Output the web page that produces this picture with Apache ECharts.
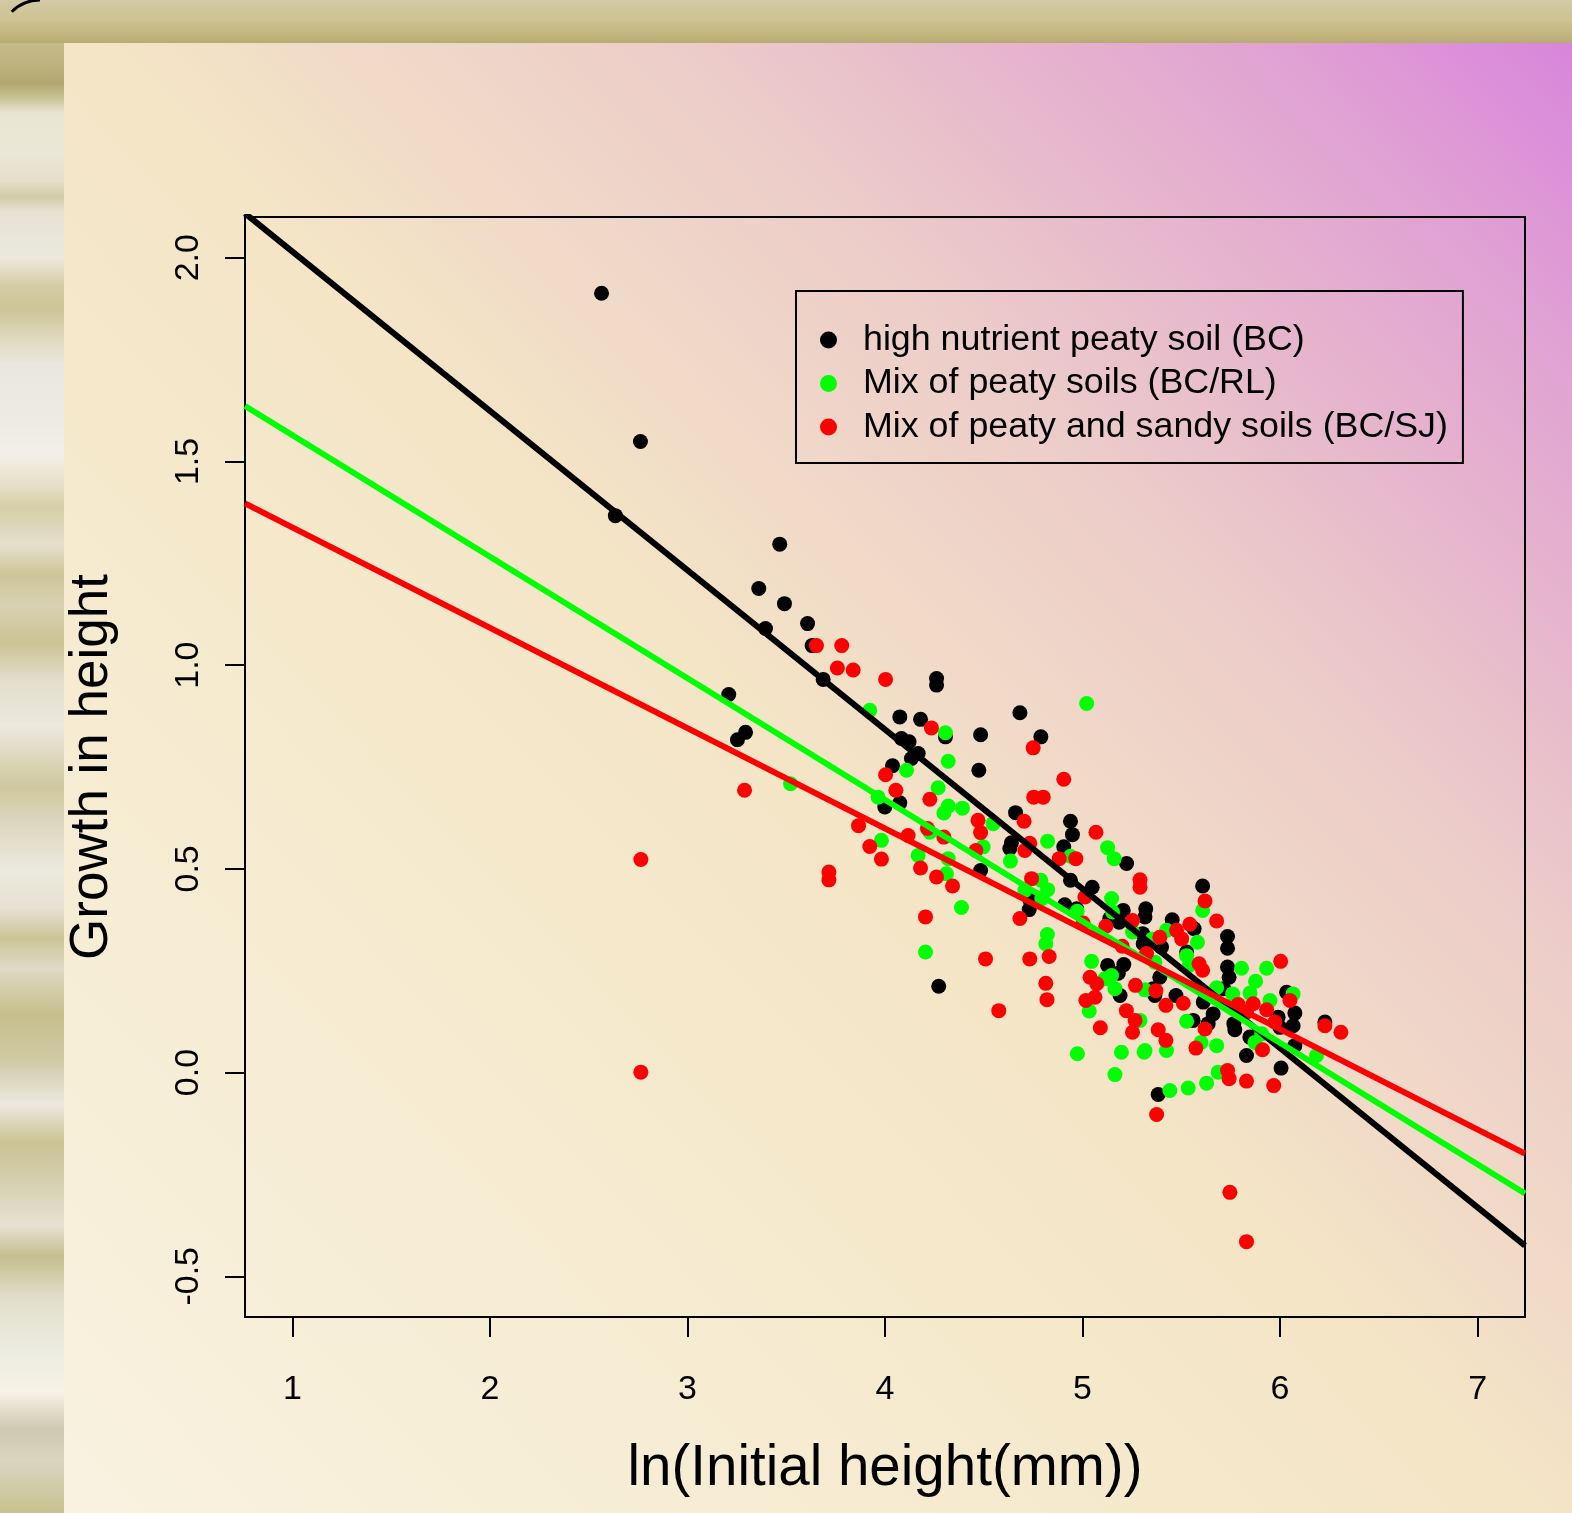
<!DOCTYPE html>
<html><head><meta charset="utf-8">
<script src="https://cdn.jsdelivr.net/npm/echarts@6/dist/echarts.min.js"></script>
<style>html,body{margin:0;padding:0;background:#f5e9cc}#c{width:1572px;height:1513px}</style>
</head><body><div id="c"></div>
<script>
const xTicks = [1, 2, 3, 4, 5, 6, 7];
const yTicks = [-0.5, 0, 0.5, 1, 1.5, 2];
const seriesNames = ['high nutrient peaty soil (BC)', 'Mix of peaty soils (BC/RL)', 'Mix of peaty and sandy soils (BC/SJ)'];
const xAxisTitle = 'ln(Initial height(mm))';
const yAxisTitle = 'Growth in height';

const bcPoints = [
[2.565,1.913],[2.762,1.549],[2.635,1.367],[3.467,1.297],[3.361,1.188],[3.491,1.151],[3.608,1.102],[3.395,1.090],[3.631,1.048],[3.687,0.965],[3.209,0.928],
[4.261,0.967],[4.261,0.951],[3.253,0.817],[3.294,0.835],[4.075,0.873],[4.180,0.867],[4.306,0.824],[4.083,0.820],[4.122,0.812],[4.168,0.783],[4.134,0.771],[4.038,0.753],[4.075,0.662],[3.999,0.652],
[4.683,0.883],[4.484,0.829],[4.789,0.824],[4.475,0.742],[4.661,0.638],[4.939,0.617],[4.949,0.584],[4.640,0.564],[4.632,0.550],[4.905,0.554],[4.484,0.496],[4.939,0.472],[5.049,0.455],
[5.223,0.513],[4.910,0.412],[4.730,0.400],[4.734,0.423],[4.970,0.402],[5.206,0.398],[5.320,0.402],[5.316,0.382],[5.185,0.369],[5.138,0.378],[5.304,0.341],[5.307,0.316],[5.127,0.263],[5.209,0.265],[5.181,0.244],[5.190,0.189],[5.358,0.206],
[4.272,0.212],
[5.608,0.458],[5.454,0.375],[5.565,0.353],[5.734,0.334],[5.734,0.305],[5.400,0.308],[5.527,0.296],[5.734,0.259],[5.742,0.234],[5.391,0.234],[6.033,0.197],[6.075,0.146],[6.066,0.115],[5.473,0.189],[5.611,0.173],[5.661,0.144],[5.636,0.120],[5.560,0.128],[5.766,0.120],[5.771,0.105],[5.714,0.206],[5.990,0.136],[5.999,0.111],[5.847,0.087],[6.075,0.066],[5.830,0.042],[6.227,0.124],[5.366,0.189],
[6.005,0.011],[5.383,-0.054]
];
const bcrlPoints = [
[3.923,0.889],[4.306,0.834],[4.320,0.764],[4.109,0.742],[4.269,0.699],[4.320,0.654],[4.298,0.637],[3.522,0.709],[3.965,0.676],[4.227,0.590],[3.982,0.570],[4.168,0.533],[4.320,0.525],[4.311,0.488],
[5.021,0.906],[4.392,0.649],[4.547,0.611],[4.823,0.568],[4.497,0.554],[4.635,0.519],[4.939,0.531],[4.789,0.472],[4.823,0.449],[4.708,0.447],
[5.127,0.552],[5.160,0.525],[4.794,0.427],[5.147,0.427],[5.152,0.394],[4.973,0.396],[5.253,0.345],[5.354,0.328],[4.822,0.339],[4.814,0.316],[5.046,0.273],[5.147,0.238],[5.164,0.206],[5.113,0.230],[5.034,0.151],[5.291,0.128],[5.316,0.203],[4.974,0.046],[5.197,0.050],[5.312,0.050],[4.387,0.405],
[4.205,0.296],
[5.608,0.398],[5.425,0.349],[5.582,0.320],[5.527,0.287],[5.540,0.263],[5.366,0.271],[5.805,0.256],[5.932,0.256],[5.876,0.224],[5.679,0.208],[5.760,0.193],[5.848,0.195],[5.949,0.177],[6.066,0.193],[5.527,0.126],[5.907,0.095],[5.873,0.074],[5.679,0.066],[5.600,0.074],[5.316,0.054],[5.425,0.054],[6.185,0.042],
[5.164,-0.005],[5.442,-0.044],[5.535,-0.038],[5.628,-0.026],[5.687,0.001]
];
const bcsjPoints = [
[3.653,1.048],[3.781,1.048],[3.759,0.993],[3.839,0.988],
[4.003,0.965],[4.235,0.846],[4.003,0.731],[4.055,0.693],[4.227,0.671],[3.289,0.693],[3.866,0.606],[4.117,0.582],[4.215,0.599],[4.298,0.578],[3.923,0.555],[3.982,0.524],[3.716,0.492],[3.716,0.473],[4.180,0.502],[4.261,0.480],[4.342,0.458],
[2.764,0.523],[2.764,0.001],
[4.750,0.797],[4.905,0.720],[4.753,0.676],[4.801,0.676],[4.704,0.617],[4.471,0.619],[4.484,0.589],[4.733,0.563],[4.708,0.545],[4.460,0.545],[4.882,0.525],[4.966,0.525],[4.742,0.476],[5.068,0.590],[5.012,0.431],
[5.291,0.473],[5.291,0.455],[4.683,0.378],[5.003,0.367],[5.118,0.359],[5.253,0.373],[5.201,0.310],[5.324,0.292],[4.509,0.279],[4.733,0.279],[4.831,0.285],[5.038,0.234],[5.072,0.218],[4.814,0.219],[4.820,0.179],[5.017,0.177],[5.063,0.185],[5.268,0.214],[5.371,0.201],[5.222,0.152],[5.266,0.128],[5.253,0.099],[5.090,0.110],[4.576,0.152],
[4.205,0.382],
[5.620,0.421],[5.679,0.372],[5.476,0.349],[5.543,0.364],[5.502,0.328],[5.391,0.332],[5.590,0.267],[5.608,0.251],[6.003,0.273],[5.510,0.170],[5.422,0.165],[5.788,0.167],[5.864,0.169],[5.830,0.148],[5.932,0.154],[6.050,0.177],[5.974,0.124],[6.227,0.115],[6.308,0.099],[5.620,0.107],[5.383,0.105],[5.422,0.079],[5.574,0.060],[5.911,0.056],
[5.734,0.005],[5.742,-0.015],[5.830,-0.021],[5.968,-0.032],[5.375,-0.103],[5.746,-0.294],[5.830,-0.415]
];
// fitted regression lines: y values at the left and right plot edges
const fitX = [0.76, 7.24];
const bcFitY = [2.109, -0.425];
const bcrlFitY = [1.636, -0.297];
const bcsjFitY = [1.397, -0.199];

const colors = ['#000000', '#00ff00', '#ff0000'];
const FONT = '"Liberation Sans", Arial, Helvetica, sans-serif';

const chart = echarts.init(document.getElementById('c'), null, {renderer: 'canvas'});
const G = echarts.graphic;

const stripStops = [
[0.00,'#cdc398'],[0.02,'#c8bf8e'],[0.045,'#bdb27e'],[0.055,'#b2a670'],[0.065,'#c9c394'],[0.075,'#e8e6d2'],[0.10,'#ebe8d8'],[0.12,'#e3dfca'],[0.13,'#d2cba6'],[0.14,'#e6e3d4'],[0.17,'#ebe9de'],[0.19,'#d3cba2'],[0.205,'#cdc596'],[0.22,'#dcd6b8'],[0.24,'#e9e7df'],[0.28,'#edebe3'],[0.30,'#f2f0e8'],[0.32,'#e6e0c8'],[0.335,'#d6cea6'],[0.36,'#e4e0cc'],[0.38,'#cdc597'],[0.40,'#d8d2b2'],[0.425,'#cbc393'],[0.45,'#e2dfcc'],[0.48,'#ebe9e0'],[0.52,'#cfc89c'],[0.545,'#dcd8c0'],[0.575,'#ece9df'],[0.60,'#e5e2d2'],[0.62,'#ccc497'],[0.64,'#dedac4'],[0.67,'#c7bf8c'],[0.70,'#cfc9a4'],[0.73,'#ebe9df'],[0.755,'#cbc394'],[0.78,'#d4cfae'],[0.81,'#e5e2d2'],[0.83,'#c6be90'],[0.86,'#e2e0cc'],[0.89,'#ebebe0'],[0.92,'#f6f2e6'],[0.945,'#cdc8b0'],[0.965,'#d9d6c0'],[1.0,'#c8c290']
].map(s => ({offset: s[0], color: s[1]}));

function lineSeries(y, color) {
  return {
    type: 'line', data: [[fitX[0], y[0]], [fitX[1], y[1]]],
    showSymbol: false, symbol: 'none', silent: true, z: 5,
    lineStyle: {color: color, width: 6}, clip: true, animation: false
  };
}
function scatterSeries(name, pts, color) {
  return {
    type: 'scatter', name: name, data: pts, symbol: 'circle', symbolSize: 15,
    itemStyle: {color: color, opacity: 1}, z: 3, animation: false
  };
}

const option = {
  animation: false,
  backgroundColor: '#f5e9cc',
  graphic: [
    {type: 'rect', silent: true, z: -100, shape: {x: 0, y: 0, width: 64, height: 1513},
     style: {fill: new G.LinearGradient(0, 0, 0, 1, stripStops)}},
    {type: 'rect', silent: true, z: -99, shape: {x: 0, y: 0, width: 1572, height: 43},
     style: {fill: new G.LinearGradient(0, 0, 0, 1, [
       {offset: 0, color: '#d3c9a4'}, {offset: 0.45, color: '#cdc494'}, {offset: 0.8, color: '#c2b67f'}, {offset: 1, color: '#b8ab72'}])}},
    {type: 'rect', silent: true, z: -98, shape: {x: 64, y: 43, width: 1508, height: 1470},
     style: {fill: new G.LinearGradient(0, 1, 1, 0, [
       {offset: 0, color: '#f9f2e0'}, {offset: 0.3, color: '#f6ebd0'}, {offset: 0.5, color: '#f4e5c6'},
       {offset: 0.6, color: '#f0d8c8'}, {offset: 0.7, color: '#ecccc9'}, {offset: 0.8, color: '#e6b6cd'},
       {offset: 0.9, color: '#e0a1d3'}, {offset: 1, color: '#d885db'}])}},
    {type: 'arc', silent: true, z: -97, shape: {cx: 40, cy: 40, r: 40, startAngle: Math.PI * 1.25, endAngle: Math.PI * 1.5},
     style: {stroke: '#000', lineWidth: 3, fill: null}}
  ],
  grid: {left: 245, top: 217, width: 1280, height: 1100, show: true, borderColor: '#000', borderWidth: 2,
         backgroundColor: 'transparent', containLabel: false, outerBoundsMode: 'none'},
  legend: {
    show: true, data: seriesNames, orient: 'vertical', left: 796, top: 291,
    padding: [31, 15, 18, 24], itemWidth: 17, itemHeight: 17, itemGap: 7.5, icon: 'circle',
    borderColor: '#000', borderWidth: 2, backgroundColor: 'transparent', selectedMode: false,
    textStyle: {fontSize: 35.8, color: '#000', fontFamily: FONT, lineHeight: 36, padding: [0, 0, 0, 21]}
  },
  xAxis: {
    type: 'value', min: 0.76, max: 7.24,
    axisLine: {show: true, onZero: false, lineStyle: {color: '#000', width: 2}},
    splitLine: {show: false},
    axisTick: {show: true, customValues: xTicks, length: 20, inside: false, lineStyle: {color: '#000', width: 2}},
    axisLabel: {show: true, customValues: xTicks, formatter: v => String(v), fontSize: 34, color: '#000', fontFamily: FONT, margin: 56},
    name: xAxisTitle, nameLocation: 'middle', nameGap: 124,
    nameTextStyle: {fontSize: 56.5, color: '#000', fontFamily: FONT}
  },
  yAxis: {
    type: 'value', min: -0.6, max: 2.1,
    axisLine: {show: true, onZero: false, lineStyle: {color: '#000', width: 2}},
    splitLine: {show: false},
    axisTick: {show: true, customValues: yTicks, length: 20, inside: false, lineStyle: {color: '#000', width: 2}},
    axisLabel: {show: true, customValues: yTicks, formatter: v => v.toFixed(1), rotate: 90, fontSize: 34, color: '#000', fontFamily: FONT, margin: 39},
    name: yAxisTitle, nameLocation: 'middle', nameGap: 126, nameRotate: 90,
    nameTextStyle: {fontSize: 53, color: '#000', fontFamily: FONT}
  },
  series: [
    scatterSeries(seriesNames[0], bcPoints, colors[0]),
    scatterSeries(seriesNames[1], bcrlPoints, colors[1]),
    scatterSeries(seriesNames[2], bcsjPoints, colors[2]),
    lineSeries(bcFitY, colors[0]),
    lineSeries(bcrlFitY, colors[1]),
    lineSeries(bcsjFitY, colors[2])
  ]
};
chart.setOption(option);
</script></body></html>
